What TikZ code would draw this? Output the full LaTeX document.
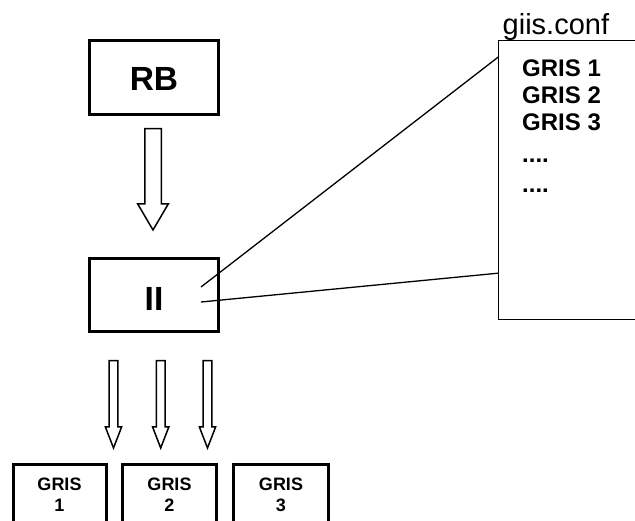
\documentclass[tikz,border=0pt]{standalone}
\usepackage{fontspec}
\setmainfont{Liberation Sans}
\usetikzlibrary{calc}

% hollow block arrow: x and top from #1, tip height from #2,
% shaft half width #3, head half width #4, head length #5
\newcommand\hollowarrow[5]{%
  \draw[arrowline] let \p1=#1, \p2=#2 in
    (\x1-#3,\y1) -- (\x1+#3,\y1) -- (\x1+#3,\y2+#5) -- (\x1+#4,\y2+#5)
    -- (\x1,\y2) -- (\x1-#4,\y2+#5) -- (\x1-#3,\y2+#5) -- cycle;}

\tikzset{
  box/.style={draw, line width=3pt, inner sep=0pt},
  bigbold/.style={font=\fontsize{33.5}{40}\selectfont\bfseries},
  smallbold/.style={font=\fontsize{18}{21}\selectfont\bfseries, align=center, inner sep=0pt},
  listtext/.style={font=\fontsize{24}{28}\selectfont\bfseries, anchor=base west, inner sep=0pt},
  arrowline/.style={line width=1.5pt, line join=miter, fill=white},
  thinline/.style={line width=1.3pt},
}

\begin{document}
\begin{tikzpicture}[x=1pt, y=-1pt]
  \useasboundingbox (0,0) rectangle (635,521);
  \fill[white] (0,0) rectangle (635,521);
  \clip (0,0) rectangle (635,521);

  % main boxes
  \node[box, bigbold, minimum width=129pt, minimum height=74pt, text height=27pt] (rb) at (154,77.5) {RB};
  \node[box, bigbold, minimum width=129pt, minimum height=73pt, text height=32pt] (ii) at (154,295) {II};

  % GRIS boxes, running off the lower edge
  \node[box, minimum width=93.6pt, minimum height=100pt] (g1) at (60,514.5) {};
  \node[box, minimum width=94pt, minimum height=100pt] (g2) at (169.5,514.5) {};
  \node[box, minimum width=95pt, minimum height=100pt] (g3) at (281,514.5) {};
  \node[smallbold] (g1t) at (59.5,494.5) {GRIS\\1};
  \node[smallbold] (g2t) at (169.5,494.5) {GRIS\\2};
  \node[smallbold] (g3t) at (281,494.5) {GRIS\\3};

  % configuration file, running off the right edge
  \node[draw, thinline, inner sep=0pt, minimum width=201.5pt, minimum height=279pt] (giis) at (599.25,180) {};
  \node[anchor=base west, inner sep=0pt, font=\fontsize{29}{34}\selectfont] (conf) at (502.5,35) {giis.conf};
  \node[listtext] (l1) at (522,77) {GRIS 1};
  \node[listtext] (l2) at (522,104) {GRIS 2};
  \node[listtext] (l3) at (522,131) {GRIS 3};
  \node[listtext] (l4) at (522,163) {....};
  \node[listtext] (l5) at (522,193) {....};

  % callout lines from II to the file
  \draw[thinline] ($(ii.center)+(47,-8)$) -- ($(giis.north west)+(0.65,17)$);
  \draw[thinline] ($(ii.center)+(47,7)$) -- ($(giis.south west)+(0.65,-47)$);

  % block arrows
  \hollowarrow{($(rb.south)+(-1,12.75)$)}{($(ii.north)+(0,-27)$)}{8.25pt}{15.25pt}{26pt}
  \hollowarrow{($(ii.south)+(-40.5,27.75)$)}{($(g1.north)+(0,-15)$)}{4.3pt}{8.1pt}{21pt}
  \hollowarrow{($(ii.south)+(6.7,27.75)$)}{($(g2.north)+(0,-15)$)}{4.3pt}{8.1pt}{21pt}
  \hollowarrow{($(ii.south)+(53.5,27.75)$)}{($(g3.north)+(0,-15)$)}{4.3pt}{8.1pt}{21pt}
\end{tikzpicture}
\end{document}
